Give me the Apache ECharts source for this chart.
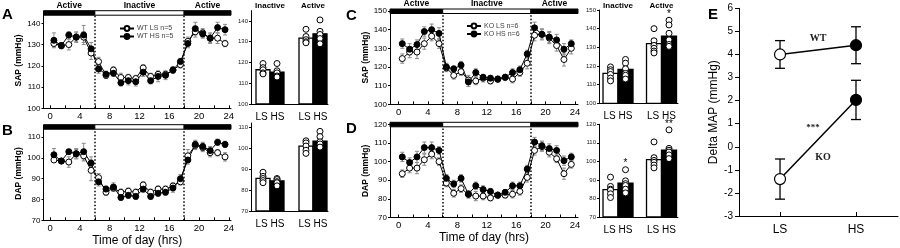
<!DOCTYPE html>
<html><head><meta charset="utf-8">
<script src="https://cdn.jsdelivr.net/npm/echarts@6/dist/echarts.min.js"></script>
<style>html,body{margin:0;padding:0;background:#fff}#c{width:900px;height:248px}</style>
</head><body><div id="c"></div>
<script>
// ---------- data ----------
const hours = [0.5,1.5,2.5,3.5,4.5,5.5,6.5,7.5,8.5,9.5,10.5,11.5,12.5,13.5,14.5,15.5,16.5,17.5,18.5,19.5,20.5,21.5,22.5,23.5];
const hourLabels = [0,4,8,12,16,20,24];
const hourTicks = [0,2,4,6,8,10,12,14,16,18,20,22,24];
const phaseFrom = [0,6,18];
const phaseTo = [6,18,24];
const phaseName = ['Active','Inactive','Active'];
const phaseDark = [1,0,1];

// A: WT SAP
const wtSapLS = [130.5,129.5,130,133.5,133.5,126,122,115.5,118,114.5,114.5,114,119,115,116,116,118,120.5,131.5,136,135.5,133,133,130.5];
const wtSapHS = [132,129.5,134.5,133.5,134.5,128,118.5,116,116.5,112,113,112.5,117,113,115,115.5,118,122,130.5,137.5,135,133,138,137];
const wtSapLSerr = [1.5,1.2,2.5,2,2.5,3,2,1.5,1.5,2,1.5,1.5,1.5,1.5,1.5,1.5,1.5,1.5,2,2.5,2,2.5,2.5,1.5];
const wtSapHSerr = [3.5,1.5,1.5,2.5,4.5,3,2,1.5,1.5,1.5,2,2,2,1.5,2.5,2,1.5,1.5,2,3,2,2,2.5,2.5];
// B: WT DAP
const wtDapLS = [99,98.5,98,102,101,94,90.5,83.5,85.5,83.5,84,83.5,87,83.5,85,85,86.5,88.5,101,106,105,102.5,102.5,100.5];
const wtDapHS = [101.5,98.5,103,102,103,97.5,88.5,85,86,81,82,81.5,85,81.5,83,83.5,85.5,90,99,106.5,105.5,103.5,107.5,106.5];
const wtDapLSerr = [1,1,2.5,2.5,2.5,5,2,1.5,1.5,1.5,1.5,1.5,1.5,1.5,1.5,1.5,1.5,1.5,3,2,2,2,1.5,2];
const wtDapHSerr = [3,1,1,2,4,3,2,1.5,2,1.5,1.5,1.5,1.5,1.5,1.5,1.5,2,2,2,2,2,2,1.5,1.5];
// C: KO SAP
const koSapLS = [124.5,128,128,132.5,136.5,132.5,119.5,115.5,117.5,113,112.5,114,112.5,113.5,114.5,113.5,117,122,137,137.5,135.5,131.5,124,130];
const koSapHS = [132.5,129.5,132,139,140,138,120,119,121,112,117,114.5,114,113.5,114.5,117,118.5,127,141,137.5,136,134.5,129.5,132.5];
const koSapLSerr = [2.5,3,3.5,3,2.5,2.5,2,2,2,2.5,2,2,1.5,1.5,1.5,2,2,3,3,3,3,3,3.5,3];
const koSapHSerr = [2.5,3,2.5,2.5,3,3,2,1.5,2,2.5,2,1.5,1.5,1.5,1.5,2,2,2,3,2.5,3,3,3,2];
// D: KO DAP
const koDapLS = [93.5,96.5,96.5,101,104,100,88.5,83,85.5,82.5,81.5,81.5,80.5,82,82,82.5,84,91.5,106,108,105,101.5,93.5,98.5];
const koDapHS = [102.5,99.5,102.5,107.5,107.5,106,91,88,91,82.5,87,85,84,82,83.5,87,87,96,110.5,108.5,107,106,100.5,102.5];
const koDapLSerr = [2,2.5,3,3,2.5,2,2,2,2,2,2.5,2,1.5,1.5,1.5,2,2,2.5,2.5,2.5,2.5,2,3,2];
const koDapHSerr = [2.5,2.5,3,3,3,2,2,2,2,2,2,2,1.5,1.5,1.5,2,2,2,2.5,2.5,2.5,2.5,2.5,2];

// Bar panels: order = [Inactive LS, Inactive HS, Active LS, Active HS]
const barGroups = ['Inactive','Active'];
const wtSapBar = [116.5,115.3,131.7,133.8];
const wtSapBarErr = [1,1.2,1.2,1.8];
const wtSapDots = [[119.5,117.5,116.5,115,114.5],[119.5,116,115,113.5,113],[136,132.5,131,130,129.5],[140.5,135,133.5,131.5,129]];
const wtDapBar = [85.6,84.4,101,103.3];
const wtDapBarErr = [0.9,0.7,1.1,1.3];
const wtDapDots = [[88.5,86.5,85.5,84.5,83.5],[85.5,85,84,83.5,82],[103.5,102.5,101,99,97.5],[108,105.5,103,102,100.5]];
const koSapBar = [116,118.2,132,136];
const koSapBarErr = [1.2,1.5,2.5,1.8];
const koSapDots = [[119.5,118,117,115.5,113.5,112],[123.5,121.5,118.5,116,115,113],[140,133.5,131,129.5,128,127],[144.5,142,137.5,134,131.5,130.5]];
const koSapStarBar = [3];
const koSapStarText = ['*'];
const koDapBar = [84.8,88.2,101,106];
const koDapBarErr = [1.3,1.3,1.8,1.5];
const koDapDots = [[91.5,86.5,85,84.5,82.5,80.5],[95.5,89.5,88,87,85,83],[110.5,102,100.5,99.5,98,96.5],[117,107,106,105,103.5,101.5]];
const koDapStarBar = [1,3];
const koDapStarText = ['*','**'];

// E: Delta MAP
const diets = ['LS','HS'];
const deltaWT = [4.0,4.4];
const deltaWTerr = [0.6,0.8];
const deltaKO = [-1.4,2.03];
const deltaKOerr = [0.87,0.85];
const deltaTicks = [-3,-2,-1,0,1,2,3,4,5,6];

// ---------- style ----------
const FF = '"Liberation Sans", Arial, Helvetica, sans-serif';
const FS = '"Liberation Serif", "Times New Roman", serif';

const grids = [
  {left:43.5, top:12.7, width:187.5, height:95.6},
  {left:43.5, top:126.7, width:187.5, height:93.6},
  {left:390, top:11, width:188, height:93.3},
  {left:390, top:124.3, width:188, height:93.2},
  {left:251, top:10.6, width:77, height:93.4},
  {left:251, top:123, width:77, height:88},
  {left:599, top:10, width:79, height:93.3},
  {left:599, top:124.3, width:79, height:92.7},
  {left:739, top:8.3, width:159, height:207.7}
].map(g => Object.assign({containLabel:false, outerBoundsMode:'none'}, g));

function lineX(gi, min, max, named) {
  return {gridIndex:gi, type:'value', min, max,
    axisLine:{show:true, onZero:false, lineStyle:{color:'#000', width:1}},
    axisTick:{show:true, inside:true, length:3, customValues:hourTicks, lineStyle:{color:'#000'}},
    axisLabel:{show:true, customValues:hourLabels, fontSize:9.5, fontFamily:FF, color:'#000', margin:3},
    splitLine:{show:false},
    name: named ? 'Time of day (hrs)' : '', nameLocation:'middle', nameGap:14,
    nameTextStyle:{fontSize:12, fontFamily:FF, color:'#000'}};
}
function lineY(gi, min, max, ticks, name, gap) {
  return {gridIndex:gi, type:'value', min, max,
    axisLine:{show:true, onZero:false, lineStyle:{color:'#000', width:1}},
    axisTick:{show:true, inside:false, length:2, customValues:ticks, lineStyle:{color:'#000'}},
    axisLabel:{show:true, customValues:ticks, fontSize:8, fontFamily:FF, color:'#000', margin:3},
    splitLine:{show:false},
    name, nameLocation:'middle', nameRotate:90, nameGap:gap,
    nameTextStyle:{fontSize:8.5, fontWeight:'bold', fontFamily:FF, color:'#000'}};
}
function barX(gi, min, max) {
  return {gridIndex:gi, type:'value', min, max,
    axisLine:{show:true, onZero:false, lineStyle:{color:'#000', width:1}},
    axisTick:{show:false},
    axisLabel:{show:true, customValues:[0,1], formatter:()=>'LS HS', fontSize:10, fontFamily:FF, color:'#000', margin:8},
    splitLine:{show:false}};
}
function barY(gi, min, max, ticks) {
  return {gridIndex:gi, type:'value', min, max,
    axisLine:{show:true, onZero:false, lineStyle:{color:'#000', width:1}},
    axisTick:{show:true, inside:false, length:2, customValues:ticks, lineStyle:{color:'#000'}},
    axisLabel:{show:true, customValues:ticks, fontSize:6, fontFamily:FF, color:'#222', margin:3},
    splitLine:{show:false}};
}

function lineSeries(gi, name, vals, filled, withMarks) {
  const s = {type:'line', name, xAxisIndex:gi, yAxisIndex:gi,
    data: hours.map((h,i)=>[h, vals[i]]),
    symbol:'circle', symbolSize:6, showSymbol:true,
    lineStyle:{color:'#000', width:1},
    itemStyle:{color: filled ? '#000' : '#fff', borderColor:'#000', borderWidth:1},
    z:4, animation:false, silent:true};
  if (withMarks) {
    s.markLine = {symbol:'none', silent:true, animation:false, label:{show:false},
      lineStyle:{color:'#000', type:[1.5,2], width:1.5},
      data:[{xAxis:phaseFrom[1]},{xAxis:phaseFrom[2]}]};
  }
  return s;
}
function errSeries(gi, vals, errs, color, cap, lw) {
  return {type:'custom', xAxisIndex:gi, yAxisIndex:gi,
    data: vals.map((v,i)=>[hours[i], v, errs[i]]), encode:{x:0, y:1},
    renderItem:(p, api)=>{
      const x=api.value(0), y=api.value(1), e=api.value(2);
      const hi=api.coord([x,y+e]), lo=api.coord([x,y-e]);
      const st={stroke:color, lineWidth:lw};
      return {type:'group', children:[
        {type:'line', shape:{x1:hi[0],y1:hi[1],x2:lo[0],y2:lo[1]}, style:st},
        {type:'line', shape:{x1:hi[0]-cap,y1:hi[1],x2:hi[0]+cap,y2:hi[1]}, style:st},
        {type:'line', shape:{x1:lo[0]-cap,y1:lo[1],x2:lo[0]+cap,y2:lo[1]}, style:st}]};
    }, z:2, silent:true, animation:false};
}
function phaseSeries(gi, showText) {
  return {type:'custom', xAxisIndex:gi, yAxisIndex:gi, clip:false,
    data: phaseFrom.map((f,i)=>[f, phaseTo[i]]), encode:{x:[0,1]},
    renderItem:(p, api)=>{
      const cs=p.coordSys, i=p.dataIndex;
      const f=api.value(0), t=api.value(1);
      const x1 = f<=0 ? cs.x : api.coord([f, 0])[0];
      const x2 = t>=24 ? cs.x+cs.width : api.coord([t, 0])[0];
      const ch = [{type:'rect', shape:{x:x1, y:cs.y-2, width:x2-x1, height:4.5},
        style:{fill: phaseDark[i] ? '#000' : '#fff', stroke:'#000', lineWidth:1}}];
      if (showText) ch.push({type:'text', x:(x1+x2)/2, y:cs.y-7.5,
        style:{text:phaseName[i], fontSize:8.5, fontWeight:'bold', fontFamily:FF, fill:'#000', align:'center', verticalAlign:'middle'}});
      return {type:'group', children:ch};
    }, z:6, silent:true, animation:false};
}
function barSeries(gi, means, errs, bw) {
  return {type:'custom', xAxisIndex:gi, yAxisIndex:gi,
    data: means.map((m,i)=>[Math.floor(i/2), i%2, m, errs[i]]), encode:{x:0, y:2},
    renderItem:(p, api)=>{
      const g=api.value(0), s=api.value(1), m=api.value(2), e=api.value(3);
      const c=api.coord([g,m]), cs=p.coordSys, base=cs.y+cs.height;
      const x0 = s===0 ? c[0]-bw : c[0], xc = x0+bw/2, t=api.coord([g,m+e]);
      return {type:'group', children:[
        {type:'rect', shape:{x:x0, y:c[1], width:bw, height:base-c[1]}, style:{fill: s ? '#000' : '#fff', stroke:'#000', lineWidth:1.3}},
        {type:'line', shape:{x1:xc,y1:c[1],x2:xc,y2:t[1]}, style:{stroke:'#000', lineWidth:1}},
        {type:'line', shape:{x1:xc-2.5,y1:t[1],x2:xc+2.5,y2:t[1]}, style:{stroke:'#000', lineWidth:1}}]};
    }, z:3, silent:true, animation:false};
}
function dotSeries(gi, dots, bw) {
  const data=[];
  dots.forEach((arr,i)=>arr.forEach(v=>data.push([Math.floor(i/2), i%2, v])));
  return {type:'custom', xAxisIndex:gi, yAxisIndex:gi, data, encode:{x:0, y:2},
    renderItem:(p, api)=>{
      const g=api.value(0), s=api.value(1), v=api.value(2), c=api.coord([g,v]);
      const cx = s===0 ? c[0]-bw/2 : c[0]+bw/2;
      return {type:'circle', shape:{cx, cy:c[1], r:3}, style:{fill:'#fff', stroke:'#000', lineWidth:1}};
    }, z:4, silent:true, animation:false};
}
function groupLabelSeries(gi) {
  return {type:'custom', xAxisIndex:gi, yAxisIndex:gi, clip:false,
    data: barGroups.map((n,i)=>[i]), encode:{x:0},
    renderItem:(p, api)=>{
      const c=api.coord([api.value(0), 0]), cs=p.coordSys;
      return {type:'text', x:c[0], y:cs.y-4.5, style:{text:barGroups[p.dataIndex], fontSize:8, fontWeight:'bold', fontFamily:FF, fill:'#000', align:'center', verticalAlign:'middle'}};
    }, z:5, silent:true, animation:false};
}
function starSeries(gi, starBar, starText, dots, bw) {
  return {type:'custom', xAxisIndex:gi, yAxisIndex:gi, clip:false,
    data: starBar.map(b=>[Math.floor(b/2), b%2, Math.max(...dots[b])]), encode:{x:0, y:2},
    renderItem:(p, api)=>{
      const g=api.value(0), s=api.value(1), c=api.coord([g, api.value(2)]);
      const cx = s===0 ? c[0]-bw/2 : c[0]+bw/2;
      return {type:'text', x:cx, y:c[1]-6, style:{text:starText[p.dataIndex], fontSize:10, fontFamily:FF, fill:'#000', align:'center', verticalAlign:'middle'}};
    }, z:5, silent:true, animation:false};
}
function deltaLine(name, vals) {
  return {type:'line', name, xAxisIndex:8, yAxisIndex:8,
    data: vals.map((v,i)=>({value:[i, v], itemStyle:{color: i ? '#000' : '#fff'}})),
    symbol:'circle', symbolSize:11, lineStyle:{color:'#000', width:1.5},
    itemStyle:{borderColor:'#000', borderWidth:1.2}, z:4, silent:true, animation:false};
}
function deltaErr(vals, errs) {
  return {type:'custom', xAxisIndex:8, yAxisIndex:8,
    data: vals.map((v,i)=>[i, v, errs[i]]), encode:{x:0, y:1},
    renderItem:(p, api)=>{
      const x=api.value(0), y=api.value(1), e=api.value(2);
      const hi=api.coord([x,y+e]), lo=api.coord([x,y-e]), st={stroke:'#000', lineWidth:1.3};
      return {type:'group', children:[
        {type:'line', shape:{x1:hi[0],y1:hi[1],x2:lo[0],y2:lo[1]}, style:st},
        {type:'line', shape:{x1:hi[0]-5,y1:hi[1],x2:hi[0]+5,y2:hi[1]}, style:st},
        {type:'line', shape:{x1:lo[0]-5,y1:lo[1],x2:lo[0]+5,y2:lo[1]}, style:st}]};
    }, z:2, silent:true, animation:false};
}
function deltaNote(vals, texts, offsets, sizes) {
  return {type:'custom', xAxisIndex:8, yAxisIndex:8, clip:false,
    data: [[0.5, (vals[0]+vals[1])/2]], encode:{x:0, y:1},
    renderItem:(p, api)=>{
      const c=api.coord([api.value(0), api.value(1)]);
      return {type:'group', children: texts.map((t,k)=>({type:'text', x:c[0]+offsets[k][0], y:c[1]+offsets[k][1],
        style:{text:t, fontSize:sizes[k], fontWeight:'bold', fontFamily:FS, fill:'#222', align:'center', verticalAlign:'middle'}}))};
    }, z:5, silent:true, animation:false};
}

const xAxis = [
  lineX(0,-0.9,24.3,false), lineX(1,-0.9,24.3,true), lineX(2,-1.17,24.41,false), lineX(3,-1.17,24.41,true),
  barX(4,-0.442,1.349), barX(5,-0.442,1.349), barX(6,-0.437,1.379), barX(7,-0.437,1.379),
  {gridIndex:8, type:'value', min:-0.54, max:1.553,
    axisLine:{show:true, onZero:false, lineStyle:{color:'#000', width:1}},
    axisTick:{show:true, inside:true, length:4, customValues:[0,1], lineStyle:{color:'#000'}},
    axisLabel:{show:true, customValues:[0,1], formatter:v=>diets[Math.round(v)], fontSize:12, fontFamily:FF, color:'#000', margin:8},
    splitLine:{show:false}}
];
const yAxis = [
  lineY(0,100,145,[100,110,120,130,140],'SAP (mmHg)',12),
  lineY(1,70,115,[70,80,90,100,110],'DAP (mmHg)',12),
  lineY(2,100,150,[100,110,120,130,140,150],'SAP (mmHg)',17),
  lineY(3,70,120,[70,80,90,100,110,120],'DAP (mmHg)',17),
  barY(4,100,145,[100,110,120,130,140]),
  barY(5,70,112,[70,80,90,100,110]),
  barY(6,100,150,[100,110,120,130,140,150]),
  barY(7,70,120,[70,80,90,100,110,120]),
  {gridIndex:8, type:'value', min:-3, max:6,
    axisLine:{show:true, onZero:false, lineStyle:{color:'#000', width:1}},
    axisTick:{show:true, inside:false, length:4, customValues:deltaTicks, lineStyle:{color:'#000'}},
    axisLabel:{show:true, customValues:deltaTicks, fontSize:10, fontFamily:FF, color:'#000', margin:6},
    splitLine:{show:false},
    name:'Delta MAP (mmHg)', nameLocation:'middle', nameRotate:90, nameGap:19,
    nameTextStyle:{fontSize:12, fontFamily:FF, color:'#000'}}
];

const series = [
  phaseSeries(0,true), phaseSeries(1,false), phaseSeries(2,true), phaseSeries(3,false),
  errSeries(0, wtSapLS, wtSapLSerr, '#8a8a8a', 2, 1), errSeries(0, wtSapHS, wtSapHSerr, '#8a8a8a', 2, 1),
  errSeries(1, wtDapLS, wtDapLSerr, '#8a8a8a', 2, 1), errSeries(1, wtDapHS, wtDapHSerr, '#8a8a8a', 2, 1),
  errSeries(2, koSapLS, koSapLSerr, '#8a8a8a', 2, 1), errSeries(2, koSapHS, koSapHSerr, '#8a8a8a', 2, 1),
  errSeries(3, koDapLS, koDapLSerr, '#8a8a8a', 2, 1), errSeries(3, koDapHS, koDapHSerr, '#8a8a8a', 2, 1),
  lineSeries(0,'WT LS n=5', wtSapLS, false, true), lineSeries(0,'WT HS n=5', wtSapHS, true, false),
  lineSeries(1,'WT LS (DAP)', wtDapLS, false, true), lineSeries(1,'WT HS (DAP)', wtDapHS, true, false),
  lineSeries(2,'KO LS n=6', koSapLS, false, true), lineSeries(2,'KO HS n=6', koSapHS, true, false),
  lineSeries(3,'KO LS (DAP)', koDapLS, false, true), lineSeries(3,'KO HS (DAP)', koDapHS, true, false),
  barSeries(4, wtSapBar, wtSapBarErr, 14), dotSeries(4, wtSapDots, 14), groupLabelSeries(4),
  barSeries(5, wtDapBar, wtDapBarErr, 14), dotSeries(5, wtDapDots, 14),
  barSeries(6, koSapBar, koSapBarErr, 15), dotSeries(6, koSapDots, 15), groupLabelSeries(6),
  starSeries(6, koSapStarBar, koSapStarText, koSapDots, 15),
  barSeries(7, koDapBar, koDapBarErr, 15), dotSeries(7, koDapDots, 15),
  starSeries(7, koDapStarBar, koDapStarText, koDapDots, 15),
  deltaErr(deltaWT, deltaWTerr), deltaErr(deltaKO, deltaKOerr),
  deltaLine('WT', deltaWT), deltaLine('KO', deltaKO),
  deltaNote(deltaWT, ['WT'], [[0,-11]], [10]),
  deltaNote(deltaKO, ['***','KO'], [[-5,-12],[5,17.5]], [9,10])
];

const legendBase = {orient:'vertical', itemWidth:14, itemHeight:6, itemGap:1, selectedMode:false,
  textStyle:{fontSize:7, fontFamily:FF, color:'#444', padding:[0,0,0,-2]}, padding:0};
const legend = [
  Object.assign({}, legendBase, {data:['WT LS n=5','WT HS n=5'], left:119, top:25}),
  Object.assign({}, legendBase, {data:['KO LS n=6','KO HS n=6'], left:466, top:22.5})
];

const letters = [['A',2,15],['B',2,131],['C',346,15.5],['D',346,129],['E',708,15]];
const graphic = letters.map(l=>({type:'text', x:l[1], y:l[2], silent:true,
  style:{text:l[0], fontSize:15, fontWeight:'bold', fontFamily:FF, fill:'#000', verticalAlign:'middle'}}));

const chart = echarts.init(document.getElementById('c'), null, {renderer:'canvas'});
chart.setOption({animation:false, backgroundColor:'#fff', textStyle:{fontFamily:FF},
  grid:grids, xAxis, yAxis, series, legend, graphic, tooltip:{show:false}});
</script></body></html>
